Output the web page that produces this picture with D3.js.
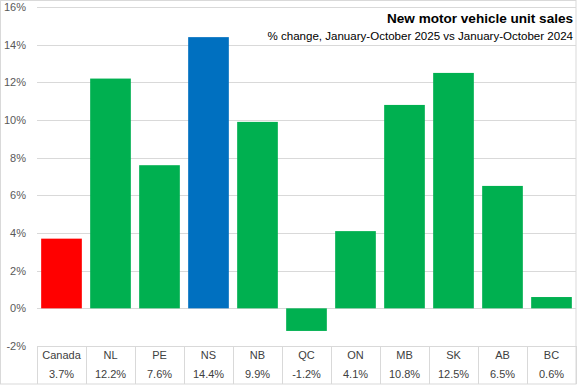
<!DOCTYPE html>
<html><head><meta charset="utf-8">
<script src="https://cdn.jsdelivr.net/npm/d3@7"></script>
<style>body{margin:0;background:#fff}svg{display:block}text{font-family:"Liberation Sans",Arial,sans-serif}</style>
</head><body>
<svg id="c" width="577" height="385"></svg>
<script>
const categories = ["Canada","NL","PE","NS","NB","QC","ON","MB","SK","AB","BC"];
const values = [3.7,12.2,7.6,14.4,9.9,-1.2,4.1,10.8,12.5,6.5,0.6];
const valueLabels = ["3.7%","12.2%","7.6%","14.4%","9.9%","-1.2%","4.1%","10.8%","12.5%","6.5%","0.6%"];
const barColors = ["#FF0000","#00B050","#00B050","#0070C0","#00B050","#00B050","#00B050","#00B050","#00B050","#00B050","#00B050"];
const yTicks = [-2,0,2,4,6,8,10,12,14,16];
const title = "New motor vehicle unit sales";
const subtitle = "% change, January-October 2025 vs January-October 2024";

(function(){
const svg = d3.select("#c");
const W = 577, H = 385;
const pLeft = 37, pRight = 576, pTop = 7, pBottom = 346;

svg.append("rect").attr("x",0.5).attr("y",0.5).attr("width",W-1.5).attr("height",H-1.5)
  .attr("fill","#fff").attr("stroke","#d9d9d9");

const x = d3.scaleBand().domain(categories).range([pLeft,pRight]).padding(0);
const y = d3.scaleLinear().domain([-2,16]).range([pBottom,pTop]);

svg.append("g").selectAll("line").data(yTicks.filter(t=>t!==-2)).join("line")
  .attr("x1",pLeft).attr("x2",pRight)
  .attr("y1",d=>Math.round(y(d))+0.5).attr("y2",d=>Math.round(y(d))+0.5)
  .attr("stroke","#d9d9d9").attr("stroke-width",1);

svg.append("g").selectAll("text").data(yTicks).join("text")
  .attr("x",26).attr("y",d=>y(d)).attr("dy","0.35em")
  .attr("text-anchor","end").attr("font-size",11).attr("fill","#595959")
  .text(d=>d+"%");

const bw = x.bandwidth()*0.83;
const off = (x.bandwidth()-bw)/2;
svg.append("g").selectAll("rect").data(categories).join("rect")
  .attr("x",(d)=>x(d)+off)
  .attr("width",bw)
  .attr("y",(d,i)=>y(Math.max(0,values[i])))
  .attr("height",(d,i)=>Math.abs(y(values[i])-y(0)))
  .attr("fill",(d,i)=>barColors[i]);

const bounds = categories.map(c=>x(c)).concat([pRight]);
svg.append("g").selectAll("line").data(bounds).join("line")
  .attr("x1",d=>Math.round(d)+0.5).attr("x2",d=>Math.round(d)+0.5)
  .attr("y1",pBottom).attr("y2",H-1)
  .attr("stroke","#d9d9d9");
svg.append("line").attr("x1",pLeft).attr("x2",pRight)
  .attr("y1",pBottom+0.5).attr("y2",pBottom+0.5).attr("stroke","#d9d9d9");

svg.append("g").selectAll("text").data(categories).join("text")
  .attr("x",d=>x(d)+x.bandwidth()/2).attr("y",355).attr("dy","0.35em")
  .attr("text-anchor","middle").attr("font-size",11).attr("fill","#404040")
  .text(d=>d);
svg.append("g").selectAll("text").data(valueLabels).join("text")
  .attr("x",(d,i)=>x(categories[i])+x.bandwidth()/2).attr("y",374).attr("dy","0.35em")
  .attr("text-anchor","middle").attr("font-size",11).attr("fill","#404040")
  .text(d=>d);

svg.append("rect").attr("x",262).attr("y",10).attr("width",313).attr("height",33).attr("fill","#fff");
function fitText(sel, target){
  const w = sel.node().getComputedTextLength();
  const fs = parseFloat(sel.attr("font-size"));
  sel.attr("font-size", (fs*target/w).toFixed(2));
}
const t1 = svg.append("text").attr("x",573).attr("y",23).attr("text-anchor","end")
  .attr("font-size",15).attr("font-weight","bold").attr("fill","#000")
  .attr("font-family","'Liberation Sans Narrow','Liberation Sans',Arial,sans-serif")
  .text(title);
fitText(t1,186);
const t2 = svg.append("text").attr("x",573).attr("y",40).attr("text-anchor","end")
  .attr("font-size",12).attr("fill","#000")
  .attr("font-family","'Liberation Sans Narrow','Liberation Sans',Arial,sans-serif")
  .text(subtitle);
fitText(t2,306);
})();
</script>
</body></html>
